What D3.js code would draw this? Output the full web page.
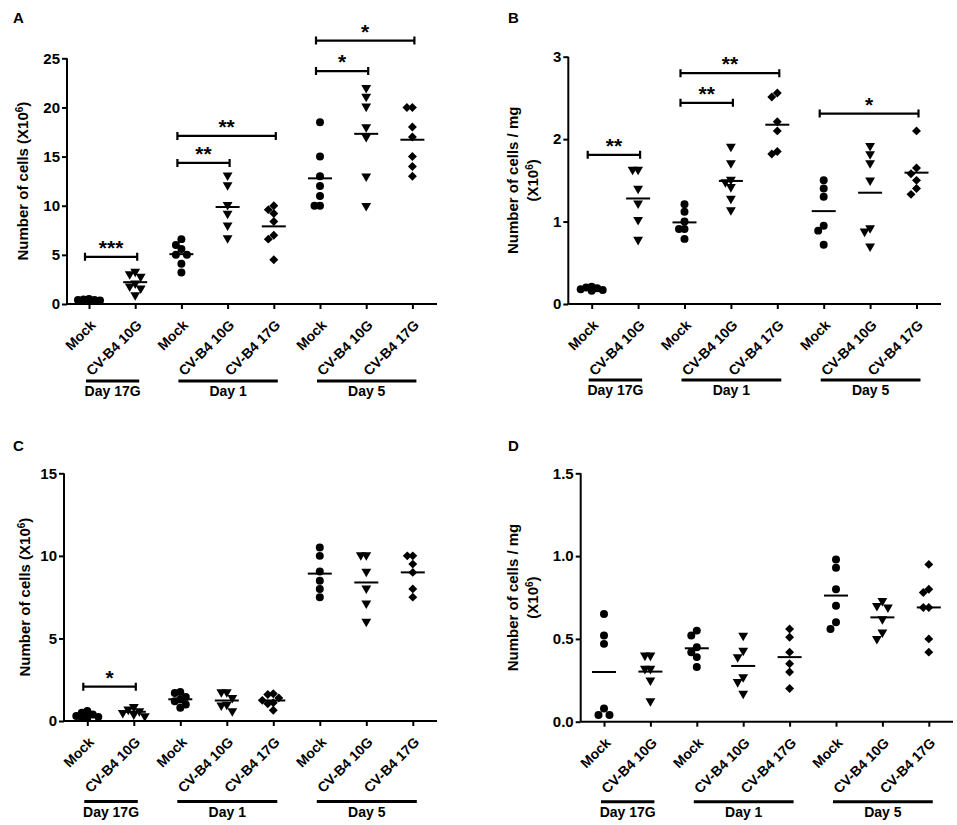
<!DOCTYPE html>
<html>
<head>
<meta charset="utf-8">
<script src="https://cdn.jsdelivr.net/npm/d3@7"></script>
<style>
  body { margin: 0; background: #fff; }
  svg text { font-family: Arial, "Liberation Sans", sans-serif; font-weight: bold; fill: #000; }
</style>
</head>
<body>
<svg id="chart" width="957" height="825"></svg>
<script>
// categories along the x axis
const groupLabels = ["Mock", "CV-B4 10G", "Mock", "CV-B4 10G", "CV-B4 17G", "Mock", "CV-B4 10G", "CV-B4 17G"];
const groupShapes = ["circle", "triangle", "circle", "triangle", "diamond", "circle", "triangle", "diamond"];
const dayLabels = ["Day 17G", "Day 1", "Day 5"];
const dayGroups = [[0, 1], [2, 4], [5, 7]];

// A: number of cells (x10^6)
const cellsA = [
    [0.5, 0.45, 0.4, 0.4, 0.35, 0.3, 0.3],
    [3.3, 3.05, 2.8, 2.1, 1.8, 1.6, 0.9],
    [6.6, 6.0, 5.6, 5.0, 5.0, 4.1, 3.2],
    [13.1, 12.1, 10.1, 9.2, 8.0, 6.7],
    [10.0, 9.6, 9.2, 8.4, 7.0, 6.6, 4.5],
    [18.5, 15.0, 13.0, 12.0, 11.0, 10.0, 10.0],
    [22.0, 21.1, 20.1, 18.0, 17.0, 13.0, 10.0],
    [20.0, 20.0, 18.0, 17.0, 15.0, 14.0, 13.0]
];
// B: number of cells / mg (x10^6)
const cellsPerMgB = [
    [0.21, 0.2, 0.19, 0.18, 0.17, 0.16],
    [1.63, 1.63, 1.40, 1.22, 1.02, 0.78],
    [1.21, 1.12, 1.0, 0.91, 0.91, 0.79],
    [1.91, 1.71, 1.51, 1.48, 1.42, 1.28, 1.14],
    [2.56, 2.51, 2.21, 2.10, 1.85, 1.82],
    [1.50, 1.40, 1.30, 0.95, 0.89, 0.72],
    [1.92, 1.82, 1.71, 1.50, 0.92, 0.88, 0.70],
    [2.10, 1.65, 1.58, 1.50, 1.40, 1.33]
];
// C: number of cells (x10^6)
const cellsC = [
    [0.6, 0.5, 0.4, 0.3, 0.25, 0.2, 0.2],
    [0.85, 0.7, 0.6, 0.5, 0.4, 0.3],
    [1.75, 1.7, 1.45, 1.3, 1.2, 1.0, 0.8],
    [1.75, 1.75, 1.4, 1.0, 0.95, 0.6],
    [1.65, 1.6, 1.4, 1.25, 1.1, 1.05, 0.65],
    [10.5, 10.0, 9.05, 8.5, 8.0, 7.5],
    [10.05, 10.05, 9.05, 8.03, 7.13, 6.02],
    [10.0, 10.0, 9.5, 9.0, 8.0, 7.5]
];
// D: number of cells / mg (x10^6)
const cellsPerMgD = [
    [0.65, 0.52, 0.47, 0.08, 0.04, 0.04],
    [0.40, 0.40, 0.32, 0.32, 0.25, 0.125],
    [0.55, 0.52, 0.45, 0.42, 0.39, 0.33],
    [0.52, 0.43, 0.39, 0.27, 0.24, 0.17],
    [0.56, 0.51, 0.42, 0.35, 0.30, 0.20],
    [0.98, 0.93, 0.80, 0.70, 0.60, 0.56],
    [0.73, 0.70, 0.69, 0.62, 0.54, 0.50],
    [0.95, 0.80, 0.78, 0.69, 0.69, 0.50, 0.42]
];

const ticksA = [0, 5, 10, 15, 20, 25];
const ticksB = [0, 1, 2, 3];
const ticksC = [0, 5, 10, 15];
const ticksD = [0, 0.5, 1.0, 1.5];

// significance brackets: group index from/to, height in data units
const bracketsA = [
    {from: 0, to: 1, y: 4.8, stars: "***"},
    {from: 2, to: 3, y: 14.35, stars: "**"},
    {from: 2, to: 4, y: 17.1, stars: "**"},
    {from: 5, to: 6, y: 23.7, stars: "*"},
    {from: 5, to: 7, y: 26.8, stars: "*"}
];
const bracketsB = [
    {from: 0, to: 1, y: 1.81, stars: "**"},
    {from: 2, to: 3, y: 2.44, stars: "**"},
    {from: 2, to: 4, y: 2.8, stars: "**"},
    {from: 5, to: 7, y: 2.31, stars: "*"}
];
const bracketsC = [
    {from: 0, to: 1, y: 2.08, stars: "*"}
];
const bracketsD = [];

const svg = d3.select("#chart");

const panels = [
    {letter: "A", lx: 13, ly: 23, values: cellsA, ticks: ticksA, fmt: d3.format("d"), max: 25,
     x0: 67, first: 89, step: 46.2, xEnd: 437, top: 58.3, bottom: 304,
     yTitle: ["Number of cells (X10"], titleX: [28], brackets: bracketsA, under: 77},
    {letter: "B", lx: 508, ly: 23, values: cellsPerMgB, ticks: ticksB, fmt: d3.format("d"), max: 3,
     x0: 568.3, first: 591.7, step: 46.4, xEnd: 941, top: 56.7, bottom: 304,
     yTitle: ["Number of cells / mg", "(X10"], titleX: [518, 538], brackets: bracketsB, under: 76},
    {letter: "C", lx: 13, ly: 451, values: cellsC, ticks: ticksC, fmt: d3.format("d"), max: 15,
     x0: 64, first: 87.3, step: 46.5, xEnd: 437, top: 473.3, bottom: 721,
     yTitle: ["Number of cells (X10"], titleX: [30], brackets: bracketsC, under: 80.5},
    {letter: "D", lx: 508, ly: 451, values: cellsPerMgD, ticks: ticksD, fmt: d3.format(".1f"), max: 1.5,
     x0: 580.7, first: 604, step: 46.4, xEnd: 953, top: 473.3, bottom: 721.7,
     yTitle: ["Number of cells / mg", "(X10"], titleX: [518, 538], brackets: bracketsD, under: 80}
];

const symbolFor = {
    circle: d3.symbol().type(d3.symbolCircle).size(50)(),
    triangle: d3.symbol().type(d3.symbolTriangle).size(42)(),
    diamond: d3.symbol().type(d3.symbolSquare).size(40)()
};
const rotateFor = {circle: 0, triangle: 180, diamond: 45};

// side-by-side placement of points that would overlap
function spread(values, y, step) {
    let placed = [];
    let out = new Array(values.length);
    let order = values.map((v, i) => i).sort((a, b) => values[b] - values[a]);
    order.forEach(i => {
        let py = y(values[i]);
        let best = 0, bestGap = -1;
        for (const k of [0, -1, 1, -2, 2]) {
            let same = placed.filter(p => p.k === k);
            let gap = same.length ? d3.min(same, p => Math.abs(p.py - py)) : Infinity;
            if (gap >= 7) { best = k; break; }
            if (gap > bestGap) { best = k; bestGap = gap; }
        }
        placed.push({k: best, py: py});
        out[i] = best * step;
    });
    return out;
}

panels.forEach(p => {
    const g = svg.append("g");
    const x = d3.scalePoint()
        .domain(d3.range(groupLabels.length))
        .range([p.first, p.first + p.step * (groupLabels.length - 1)]);
    const y = d3.scaleLinear().domain([0, p.max]).range([p.bottom, p.top]);

    g.append("text")
        .attr("x", p.lx).attr("y", p.ly)
        .style("font-size", "15px")
        .text(p.letter);

    // y axis
    const yAxis = g.append("g")
        .attr("transform", `translate(${p.x0},0)`)
        .call(d3.axisLeft(y).tickValues(p.ticks).tickFormat(p.fmt).tickSize(5).tickPadding(2));
    yAxis.select(".domain").attr("stroke-width", 2).attr("d", `M0,${p.top}V${p.bottom}`);
    yAxis.selectAll(".tick line").attr("stroke-width", 2);
    yAxis.selectAll(".tick text").style("font-size", "15px").attr("font-family", null);

    // x axis
    const xAxis = g.append("g")
        .attr("transform", `translate(0,${p.bottom})`)
        .call(d3.axisBottom(x).tickSize(5).tickFormat(i => groupLabels[i]));
    xAxis.select(".domain").attr("stroke-width", 2).attr("d", `M${p.x0},0H${p.xEnd}`);
    xAxis.selectAll(".tick line").attr("stroke-width", 2);
    xAxis.selectAll(".tick text")
        .attr("font-family", null)
        .style("font-size", "14px")
        .attr("text-anchor", "end")
        .attr("y", 0).attr("dy", 0)
        .attr("transform", "translate(7,22) rotate(-45)");

    // y title
    p.yTitle.forEach((t, j) => {
        const mid = (p.top + p.bottom) / 2;
        const txt = g.append("text")
            .attr("transform", `translate(${p.titleX[j]},${mid}) rotate(-90)`)
            .attr("text-anchor", "middle")
            .style("font-size", "15px");
        txt.append("tspan").text(t);
        if (t.indexOf("X10") >= 0) {
            txt.append("tspan").attr("dy", "-0.5em").style("font-size", "10px").text("6");
            txt.append("tspan").attr("dy", "0.35em").text(")");
        }
    });

    // day groups under the axis
    dayGroups.forEach((dg, j) => {
        const a = x(dg[0]) - 3, b = x(dg[1]) + 4;
        g.append("line")
            .attr("x1", a).attr("x2", b)
            .attr("y1", p.bottom + p.under).attr("y2", p.bottom + p.under)
            .attr("stroke", "#000").attr("stroke-width", 3);
        g.append("text")
            .attr("x", (a + b) / 2).attr("y", p.bottom + p.under + 15)
            .attr("text-anchor", "middle")
            .style("font-size", "14px")
            .text(dayLabels[j]);
    });

    // points and mean lines
    p.values.forEach((vals, gi) => {
        const offs = spread(vals, y, 5.5);
        const shape = groupShapes[gi];
        g.selectAll(null)
            .data(vals)
            .join("path")
            .attr("d", symbolFor[shape])
            .attr("transform", (d, i) => `translate(${x(gi) + offs[i]},${y(d)}) rotate(${rotateFor[shape]})`)
            .attr("fill", "#000");
        const m = d3.mean(vals);
        g.append("line")
            .attr("x1", x(gi) - 12).attr("x2", x(gi) + 12)
            .attr("y1", y(m)).attr("y2", y(m))
            .attr("stroke", "#000").attr("stroke-width", 2);
    });

    // significance brackets
    p.brackets.forEach(br => {
        const a = x(br.from) - 4, b = x(br.to) + 2, yy = y(br.y);
        g.append("path")
            .attr("d", `M${a},${yy - 4}V${yy + 4}M${a},${yy}H${b}M${b},${yy - 4}V${yy + 4}`)
            .attr("fill", "none").attr("stroke", "#000").attr("stroke-width", 2.2);
        g.append("text")
            .attr("x", (a + b) / 2).attr("y", yy - 2)
            .attr("text-anchor", "middle")
            .style("font-size", "21px")
            .text(br.stars);
    });
});
</script>
</body>
</html>
